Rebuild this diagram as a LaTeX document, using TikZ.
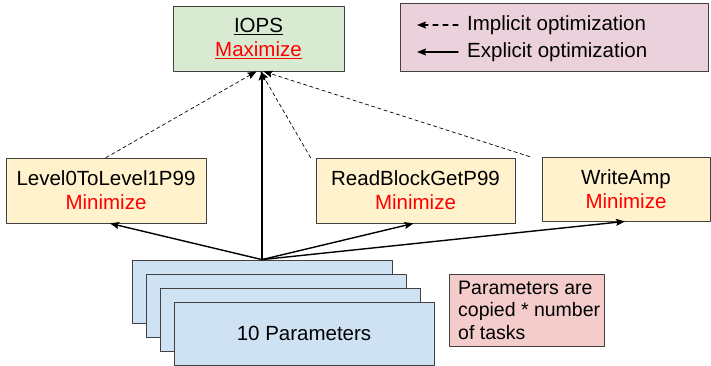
\documentclass[tikz,border=0pt]{standalone}
\usepackage{fontspec}
\setmainfont{Liberation Sans}
\usetikzlibrary{arrows.meta}
\definecolor{goalgreen}{HTML}{D9EAD3}
\definecolor{metricyellow}{HTML}{FFF2CC}
\definecolor{paramblue}{HTML}{CFE2F3}
\definecolor{legendpink}{HTML}{EAD1DC}
\definecolor{notered}{HTML}{F4CCCC}

\begin{document}
\begin{tikzpicture}[x=1pt, y=-1pt, line cap=round, line join=round, >={Stealth[length=9pt, width=7pt, inset=1.5pt]},
    every node/.style={font=\fontsize{20.5}{24}\selectfont, align=center, inner sep=0pt},
    box/.style={draw=black!75, line width=0.8pt, rectangle},
    explicit/.style={->, line width=1.4pt},
    implicit/.style={->, line width=0.7pt, dash pattern=on 3.5pt off 3pt}]
    \useasboundingbox (0,0) rectangle (711,365);
    \node[box, fill=legendpink, minimum width=308pt, minimum height=68pt] (legend) at (554,37) {};
    \node[box, fill=goalgreen, minimum width=171pt, minimum height=65pt] (iops) at (258.5,38.5) {\underline{IOPS}\\\textcolor{red}{\underline{Maximize}}};
    \node[box, fill=metricyellow, minimum width=200pt, minimum height=65pt] (lvl) at (106,190.5) {Level0ToLevel1P99\\\textcolor{red}{Minimize}};
    \node[box, fill=metricyellow, minimum width=199pt, minimum height=65pt] (read) at (415.5,190.5) {ReadBlockGetP99\\\textcolor{red}{Minimize}};
    \node[box, fill=metricyellow, minimum width=168pt, minimum height=64pt] (wamp) at (626,189) {WriteAmp\\\textcolor{red}{Minimize}};
    % stacked parameter sheets, back to front
    \foreach \i in {0,...,3}
        \node[box, fill=paramblue, minimum width=260pt, minimum height=63pt] (p\i) at (262+14*\i,291.5+14*\i) {};
    \node (ptext) at (p3) {10 Parameters};
    \node[box, fill=notered, minimum width=155pt, minimum height=72pt] (note) at (526.5,310) {};
    \node[anchor=west, align=left, font=\fontsize{19.5}{22.5}\selectfont] (notetext) at (458,310) {Parameters are\\copied * number\\of tasks};
    % legend entries
    \coordinate (imp0) at (417,25);
    \coordinate (imp1) at (458,25);
    \coordinate (exp0) at (417,52);
    \coordinate (exp1) at (458,52);
    \node[anchor=west] (implab) at (467,25) {Implicit optimization};
    \node[anchor=west] (explab) at (467,52) {Explicit optimization};
    \draw[implicit, line width=1.2pt, dash pattern=on 5pt off 5pt] (imp1) -- (imp0);
    \draw[explicit] (exp1) -- (exp0);
    % edges
    \draw[implicit] (lvl.north) -- ([xshift=-2pt]iops.south);
    \draw[implicit] ([xshift=-5pt]read.north west) -- ([xshift=2pt]iops.south);
    \draw[implicit] ([xshift=-12pt]wamp.north west) -- ([xshift=5pt]iops.south);
    \draw[explicit] (p0.north) -- (p0.north |- iops.south);
    \draw[explicit] (p0.north) -- ([xshift=4pt]lvl.south);
    \draw[explicit] (p0.north) -- ([xshift=-2pt]read.south);
    \draw[explicit] (p0.north) -- ([xshift=-1pt]wamp.south);
\end{tikzpicture}
\end{document}
